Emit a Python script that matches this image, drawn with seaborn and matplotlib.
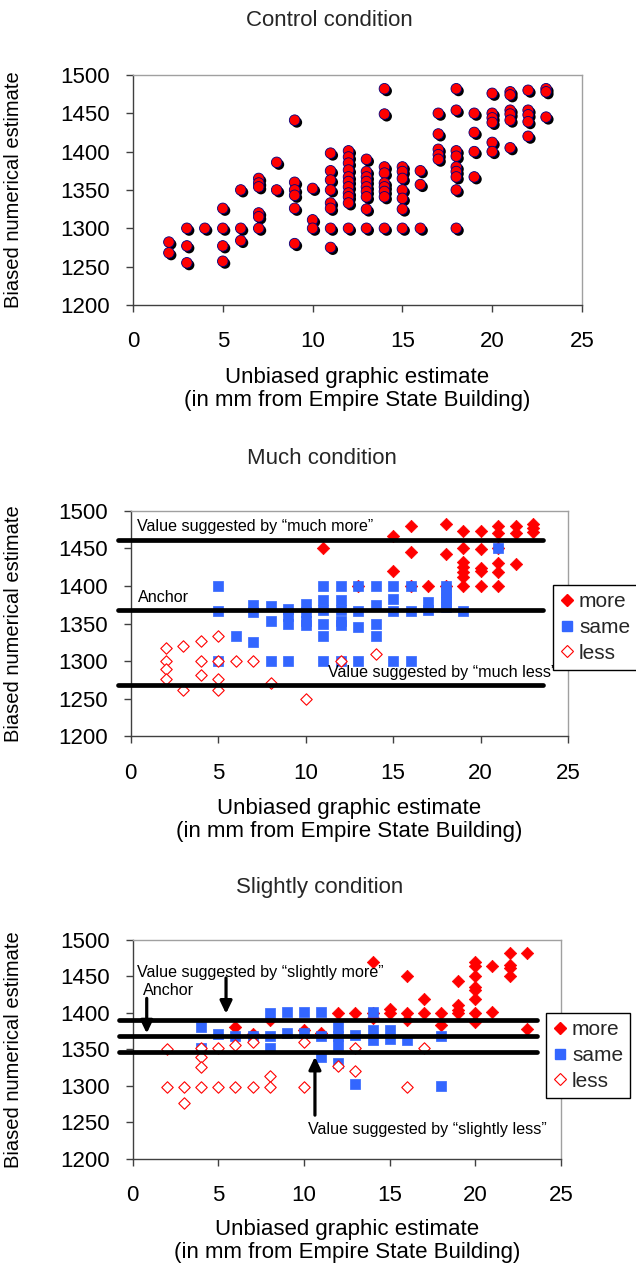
import matplotlib
matplotlib.use("Agg")
import matplotlib.pyplot as plt
import seaborn as sns
from matplotlib import patheffects as pe
from matplotlib.lines import Line2D

# ---------------- data ----------------
control_x = [2, 2, 3, 3, 3, 4, 5, 5, 5, 5, 6, 6, 6,
             7, 7, 7, 7, 7, 7, 8, 8, 9, 9, 9, 9, 9, 9, 10, 10, 10,
             11, 11, 11, 11, 11, 11, 11, 11,
             12, 12, 12, 12, 12, 12, 12, 12, 12, 12, 12,
             13, 13, 13, 13, 13, 13, 13, 13, 13,
             14, 14, 14, 14, 14, 14, 14, 14, 14,
             15, 15, 15, 15, 15, 15, 15, 16, 16, 16,
             17, 17, 17, 17, 17,
             18, 18, 18, 18, 18, 18, 18, 18, 18,
             19, 19, 19, 19, 20, 20, 20, 20, 20, 20,
             21, 21, 21, 21, 21, 21, 22, 22, 22, 22, 22, 23, 23, 23]
control_y = [1282, 1268, 1300, 1277, 1255, 1300, 1326, 1300, 1277, 1257, 1350, 1300, 1284,
             1365, 1359, 1354, 1320, 1315, 1300, 1386, 1350, 1441, 1360, 1350, 1343, 1326, 1280, 1352, 1311, 1300,
             1398, 1375, 1363, 1350, 1333, 1326, 1300, 1275,
             1401, 1393, 1385, 1376, 1367, 1361, 1354, 1346, 1341, 1333, 1300,
             1390, 1374, 1367, 1361, 1354, 1348, 1341, 1325, 1300,
             1482, 1449, 1380, 1372, 1359, 1354, 1348, 1341, 1300,
             1380, 1374, 1365, 1350, 1339, 1325, 1300, 1375, 1357, 1300,
             1450, 1423, 1403, 1396, 1390,
             1482, 1454, 1401, 1394, 1380, 1374, 1367, 1350, 1300,
             1450, 1425, 1400, 1367, 1476, 1450, 1444, 1438, 1412, 1400,
             1478, 1474, 1454, 1449, 1441, 1405, 1480, 1454, 1448, 1439, 1420, 1482, 1478, 1445]

much_more_x = [11, 13, 15, 15, 16, 16, 16, 17, 18, 18, 18,
               19, 19, 19, 19, 19, 19, 19, 20, 20, 20, 20, 20,
               21, 21, 21, 21, 21, 21, 22, 22, 22, 23, 23, 23]
much_more_y = [1450, 1400, 1467, 1420, 1480, 1445, 1400, 1400, 1482, 1442, 1400,
               1473, 1450, 1432, 1425, 1418, 1412, 1400, 1473, 1449, 1424, 1420, 1400,
               1480, 1470, 1450, 1430, 1419, 1400, 1480, 1470, 1429, 1482, 1477, 1472]
much_same_x = [5, 5, 5, 6, 7, 7, 7, 8, 8, 8, 9, 9, 9, 9, 10, 10, 10, 10,
               11, 11, 11, 11, 11, 11, 12, 12, 12, 12, 12, 12, 13, 13, 13, 13,
               14, 14, 14, 14, 15, 15, 15, 15, 16, 16, 16, 17, 17,
               18, 18, 18, 18, 18, 19, 21]
much_same_y = [1400, 1367, 1300, 1334, 1375, 1366, 1326, 1373, 1353, 1300, 1370, 1360, 1350, 1300,
               1376, 1366, 1353, 1348,
               1400, 1381, 1368, 1350, 1333, 1300, 1400, 1381, 1368, 1353, 1348, 1300,
               1400, 1367, 1346, 1300, 1400, 1375, 1350, 1334, 1400, 1382, 1367, 1300,
               1400, 1367, 1300, 1379, 1368, 1400, 1392, 1385, 1378, 1372, 1367, 1450]
much_less_x = [2, 2, 2, 2, 3, 3, 4, 4, 4, 5, 5, 5, 5, 6, 7, 8, 10, 12, 14]
much_less_y = [1317, 1300, 1290, 1276, 1320, 1261, 1327, 1300, 1281, 1334, 1300, 1276, 1261,
               1300, 1300, 1271, 1250, 1300, 1309]

sl_more_x = [6, 7, 8, 10, 11, 12, 13, 14, 14, 14, 15, 15, 16, 16, 16, 17, 17, 18, 18,
             19, 19, 19, 19, 20, 20, 20, 20, 20, 20, 20, 20,
             21, 21, 22, 22, 22, 22, 23, 23]
sl_more_y = [1381, 1371, 1391, 1377, 1373, 1400, 1400, 1470, 1400, 1393, 1405, 1400, 1450, 1400, 1391,
             1419, 1400, 1400, 1384, 1444, 1411, 1404, 1400,
             1470, 1464, 1450, 1436, 1432, 1419, 1400, 1388,
             1464, 1401, 1482, 1466, 1461, 1450, 1482, 1378]
sl_same_x = [4, 4, 5, 6, 7, 8, 8, 8, 9, 9, 10, 10, 11, 11, 11, 12, 12, 12, 12,
             13, 13, 14, 14, 14, 15, 15, 16, 18, 18]
sl_same_y = [1381, 1352, 1371, 1368, 1369, 1400, 1368, 1352, 1401, 1372, 1401, 1372, 1401, 1368, 1340,
             1381, 1368, 1356, 1331, 1370, 1302, 1401, 1377, 1363, 1377, 1365, 1363, 1369, 1300]
sl_less_x = [2, 2, 3, 3, 4, 4, 4, 4, 5, 5, 6, 6, 7, 7, 8, 8, 10, 10, 12, 13, 13, 16, 17]
sl_less_y = [1350, 1299, 1299, 1276, 1352, 1340, 1326, 1299, 1352, 1299, 1356, 1299, 1360, 1299,
             1313, 1299, 1360, 1299, 1327, 1352, 1321, 1299, 1352]

much_lines = [1461, 1368, 1268]          # much more, anchor, much less
slight_lines = [1391, 1369, 1346]        # slightly more, anchor, slightly less

x_ticks = [0, 5, 10, 15, 20, 25]
y_ticks = [1200, 1250, 1300, 1350, 1400, 1450, 1500]
legend_labels = ["more", "same", "less"]

titles = ["Control condition", "Much condition", "Slightly condition"]
xlabel = "Unbiased graphic estimate\n(in mm from Empire State Building)"
ylabel = "Biased numerical estimate"

# ---------------- style ----------------
sns.set_theme(style="white")
plt.rcParams["font.family"] = ["Liberation Sans", "DejaVu Sans"]

RED = "#FF0000"
BLUE = "#3366FF"

fig = plt.figure(figsize=(6.36, 12.68), dpi=100)
ax1 = fig.add_axes([0.2091, 0.7595, 0.7060, 0.1814])
ax2 = fig.add_axes([0.2055, 0.4193, 0.6876, 0.1779])
ax3 = fig.add_axes([0.2086, 0.0860, 0.6734, 0.1727])


def style_axes(ax, ylab_x, xlab_y):
    ax.set_xlim(0, 25)
    ax.set_ylim(1200, 1500)
    ax.set_xticks(x_ticks)
    ax.set_yticks(y_ticks)
    ax.tick_params(axis="both", which="major", direction="out", length=5, width=1,
                   color="#404040", labelsize=16, labelcolor="black")
    ax.tick_params(axis="x", pad=14, bottom=True)
    ax.tick_params(axis="y", pad=11.5, left=True)
    for s in ("left", "bottom"):
        ax.spines[s].set_color("#404040")
        ax.spines[s].set_linewidth(1)
    for s in ("top", "right"):
        ax.spines[s].set_color("#A0A0A0")
        ax.spines[s].set_linewidth(1)
    ax.grid(False)
    ax.set_ylabel(ylabel, fontsize=14.5, color="black")
    ax.yaxis.set_label_coords(ylab_x, 0.5)
    ax.set_xlabel(xlabel, fontsize=16, color="black", linespacing=1.12)
    ax.xaxis.set_label_coords(0.5, xlab_y)
    ax.xaxis.label.set_va("center")


# ---- Control ----
sns.scatterplot(x=control_x, y=control_y, ax=ax1, color=RED, edgecolor="#000080",
                linewidth=0.6, s=58, marker="o", legend=False, zorder=3)
ax1.collections[-1].set_path_effects([
    pe.SimplePatchShadow(offset=(1.6, -1.6), shadow_rgbFace="black", alpha=1.0),
    pe.Normal()])
style_axes(ax1, -0.245, -0.367)


def cond_scatter(ax, mx, my, sx, sy, lx, ly):
    sns.scatterplot(x=mx, y=my, ax=ax, color=RED, edgecolor=RED, linewidth=0.5,
                    s=40, marker="D", legend=False, zorder=2)
    sns.scatterplot(x=sx, y=sy, ax=ax, color=BLUE, edgecolor=BLUE, linewidth=0.5,
                    s=52, marker="s", legend=False, zorder=3)
    sns.scatterplot(x=lx, y=ly, ax=ax, color="white", edgecolor=RED, linewidth=0.8,
                    s=34, marker="D", legend=False, zorder=3)


def add_legend(ax, x_fig, y_fig):
    handles = [Line2D([], [], ls="", marker="D", color=RED, markersize=6.5),
               Line2D([], [], ls="", marker="s", color=BLUE, markersize=7.5),
               Line2D([], [], ls="", marker="D", markerfacecolor="white",
                      markeredgecolor=RED, markeredgewidth=0.8, markersize=6.5)]
    leg = fig.legend(handles, legend_labels, loc="upper left",
                     bbox_to_anchor=(x_fig, y_fig), bbox_transform=fig.transFigure,
                     fontsize=15, frameon=True, fancybox=False, shadow=False,
                     borderaxespad=0, borderpad=0.35, handlelength=0.6,
                     handletextpad=0.3, labelspacing=0.32)
    fr = leg.get_frame()
    fr.set_edgecolor("black")
    fr.set_linewidth(1)
    fr.set_facecolor("white")
    fr.set_alpha(1)


def hlines(ax, vals, x0, x1):
    for v in vals:
        ax.plot([x0, x1], [v, v], color="black", lw=3.4, solid_capstyle="round",
                clip_on=False, zorder=5)


# ---- Much ----
cond_scatter(ax2, much_more_x, much_more_y, much_same_x, much_same_y, much_less_x, much_less_y)
style_axes(ax2, -0.246, -0.369)
hlines(ax2, much_lines, -0.7, 23.58)
txt_kw = dict(fontsize=11.6, color="black", va="center", ha="left", zorder=6, clip_on=False)
ax2.text(0.36, 1479, "Value suggested by \u201cmuch more\u201d", **txt_kw)
ax2.text(0.43, 1384, "Anchor", **txt_kw)
ax2.text(11.3, 1285, "Value suggested by \u201cmuch less\u201d", **txt_kw)
add_legend(ax2, 553 / 636, 1 - 585 / 1268)

# ---- Slightly ----
cond_scatter(ax3, sl_more_x, sl_more_y, sl_same_x, sl_same_y, sl_less_x, sl_less_y)
style_axes(ax3, -0.256, -0.375)
hlines(ax3, slight_lines, -0.8, 23.58)
ax3.text(0.27, 1456, "Value suggested by \u201cslightly more\u201d", **txt_kw)
ax3.text(0.58, 1431, "Anchor", **txt_kw)
ax3.text(10.25, 1241, "Value suggested by \u201cslightly less\u201d", **txt_kw)
arrow_kw = dict(arrowstyle="-|>,head_width=0.36,head_length=0.75", lw=2.3,
                color="black", shrinkA=0, shrinkB=0, mutation_scale=10)
ax3.annotate("", xy=(0.82, 1372), xytext=(0.82, 1420), arrowprops=arrow_kw,
             annotation_clip=False, zorder=6)
ax3.annotate("", xy=(5.45, 1399), xytext=(5.45, 1448), arrowprops=arrow_kw,
             annotation_clip=False, zorder=6)
ax3.annotate("", xy=(10.64, 1340), xytext=(10.64, 1260), arrowprops=arrow_kw,
             annotation_clip=False, zorder=6)
add_legend(ax3, 546 / 636, 1 - 1013 / 1268)

# ---- titles ----
fig.text(329 / 636, 1 - 20 / 1268, titles[0], fontsize=16, ha="center", va="center")
fig.text(322 / 636, 1 - 458 / 1268, titles[1], fontsize=16, ha="center", va="center")
fig.text(320 / 636, 1 - 888 / 1268, titles[2], fontsize=16, ha="center", va="center")

fig.savefig("out.png", dpi=100)
